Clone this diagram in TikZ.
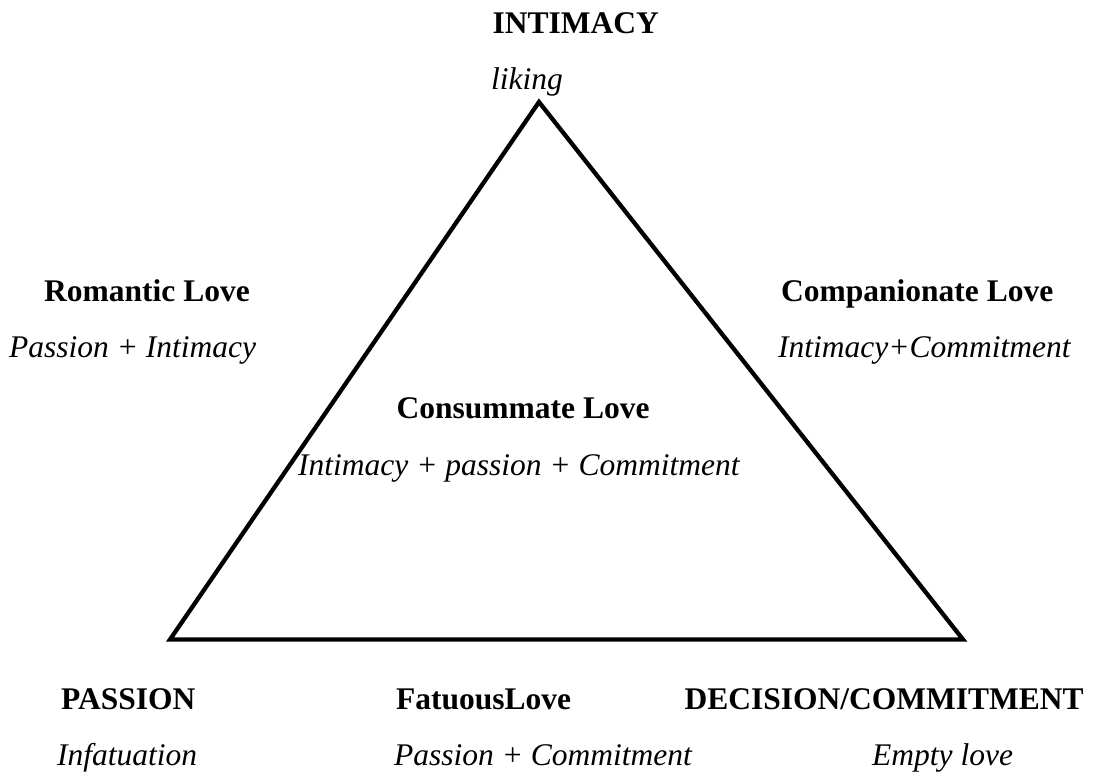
\documentclass[tikz,border=0pt]{standalone}
\usepackage{fontspec}
\setmainfont{Liberation Serif}
\begin{document}
\begin{tikzpicture}[x=1pt,y=-1pt,
  lbl/.style={anchor=base west,inner sep=0pt},
  hd/.style={lbl,font=\fontsize{31.5}{38}\selectfont\bfseries},
  sub/.style={lbl,font=\fontsize{31.5}{38}\selectfont\itshape},
  edge/.style={line width=4.3pt,line join=miter,miter limit=10}]
\useasboundingbox[fill=white] (0,0) rectangle (1095,776);
% triangle
\coordinate (A) at (539,102);
\coordinate (B) at (170,639.5);
\coordinate (C) at (963,639.5);
\draw[edge] (A) -- (B) -- (C) -- cycle;
% labels
\node[hd]  (intimacy)  at (492.5,33.3)  {INTIMACY};
\node[sub] (liking)    at (491,89)      {liking};
\node[hd]  (romantic)  at (44,301.7)    {Romantic Love};
\node[sub] (romsub)    at (9,357.7)     {Passion + Intimacy};
\node[hd]  (compan)    at (781,301.7)   {Companionate Love};
\node[sub] (compsub)   at (778,357.7)   {Intimacy+Commitment};
\node[hd]  (consum)    at (396.5,418.3) {Consummate Love};
\node[sub] (consub)    at (298,475)     {Intimacy + passion + Commitment};
\node[hd]  (passion)   at (61,709.3)    {PASSION};
\node[sub] (infat)     at (57,765.7)    {Infatuation};
\node[hd]  (fatuous)   at (396,709.3)   {FatuousLove};
\node[sub] (fatsub)    at (394,765.7)   {Passion + Commitment};
\node[hd]  (decision)  at (684.5,709.3) {DECISION/COMMITMENT};
\node[sub] (empty)     at (872,765.7)   {Empty love};
\end{tikzpicture}
\end{document}
